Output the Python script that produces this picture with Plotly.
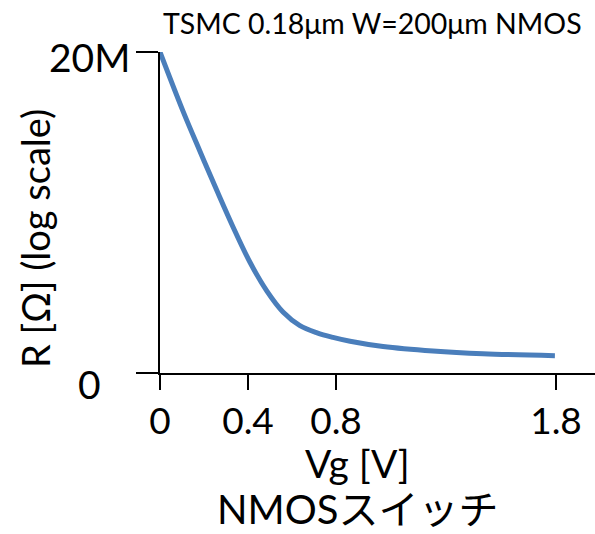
import plotly.graph_objects as go

vg = [0.0, 0.105, 0.182, 0.259, 0.332, 0.409, 0.486, 0.559, 0.636, 0.714, 0.786, 0.864, 1.014, 1.241, 1.468, 1.795]
r_rel = [20.0, 16.3, 13.8, 11.35, 9.1, 6.9, 5.1, 3.8, 2.95, 2.5, 2.22, 1.98, 1.65, 1.37, 1.2, 1.08]
x_ticks = [0, 0.4, 0.8, 1.8]
x_tick_labels = ["0", "0.4", "0.8", "1.8"]
y_ticks = [0, 20]
y_tick_labels = ["0", "20M"]

FONT = "Lato, 'Noto Sans CJK JP', sans-serif"
W, H = 595, 534
L, R, T, B = 160, 0, 52, 161

fig = go.Figure()
fig.add_trace(go.Scatter(x=vg, y=r_rel, mode="lines",
                         line=dict(color="#4A7EBB", width=5, shape="spline", smoothing=1.0),
                         showlegend=False, hoverinfo="skip"))

fig.update_layout(
    width=W, height=H,
    margin=dict(l=L, r=R, t=T, b=B, pad=0),
    paper_bgcolor="white", plot_bgcolor="white",
    font=dict(family=FONT, color="black", size=37),
    xaxis=dict(range=[0, (W - L) / 220.0], tickvals=x_ticks, ticktext=x_tick_labels,
               showline=True, linecolor="black", linewidth=1.5, ticks="outside", ticklen=15,
               tickwidth=1.5, tickcolor="black", showgrid=False, zeroline=False,
               tickfont=dict(size=37, family=FONT)),
    yaxis=dict(range=[0, 20], tickvals=y_ticks, showticklabels=False,
               showline=True, linecolor="black", linewidth=1.5, ticks="outside", ticklen=22,
               tickwidth=1.5, tickcolor="black", showgrid=True, gridcolor="black", gridwidth=1.5,
               zeroline=False),
)

def ypaper(py):
    return (H - B - py) / (H - B - T)

def xpaper(px):
    return (px - L) / (W - L - R)

# y tick labels placed as in the reference (offset from the tick positions)
label_style = {"20M": dict(x=xpaper(131), xanchor="right", yshift=-5),
               "0": dict(x=xpaper(89), xanchor="center", yshift=-11)}
for yv, lab in zip(y_ticks, y_tick_labels):
    st = label_style[lab]
    fig.add_annotation(text=lab, x=st["x"], xref="paper", y=yv, yref="y", xanchor=st["xanchor"],
                       yanchor="middle", yshift=st["yshift"], showarrow=False,
                       font=dict(size=39, family=FONT), borderpad=0)

fig.add_annotation(text="TSMC 0.18μm W=200μm NMOS", x=xpaper(372), y=ypaper(23), xref="paper", yref="paper",
                   showarrow=False, font=dict(size=28.5, family=FONT), xanchor="center", yanchor="middle")
fig.add_annotation(text="R [Ω] (log scale)", x=xpaper(35), y=ypaper(239), xref="paper", yref="paper",
                   textangle=-90, showarrow=False, font=dict(size=38, family=FONT),
                   xanchor="center", yanchor="middle")
fig.add_annotation(text="Vg [V]", x=xpaper(357), y=ypaper(463), xref="paper", yref="paper",
                   showarrow=False, font=dict(size=39, family=FONT), xanchor="center", yanchor="middle")
fig.add_annotation(text="NMOSスイッチ", x=xpaper(357), y=ypaper(509), xref="paper", yref="paper",
                   showarrow=False, font=dict(size=40, family=FONT), xanchor="center", yanchor="middle",
                   borderpad=0)

fig.write_html("out.html")
